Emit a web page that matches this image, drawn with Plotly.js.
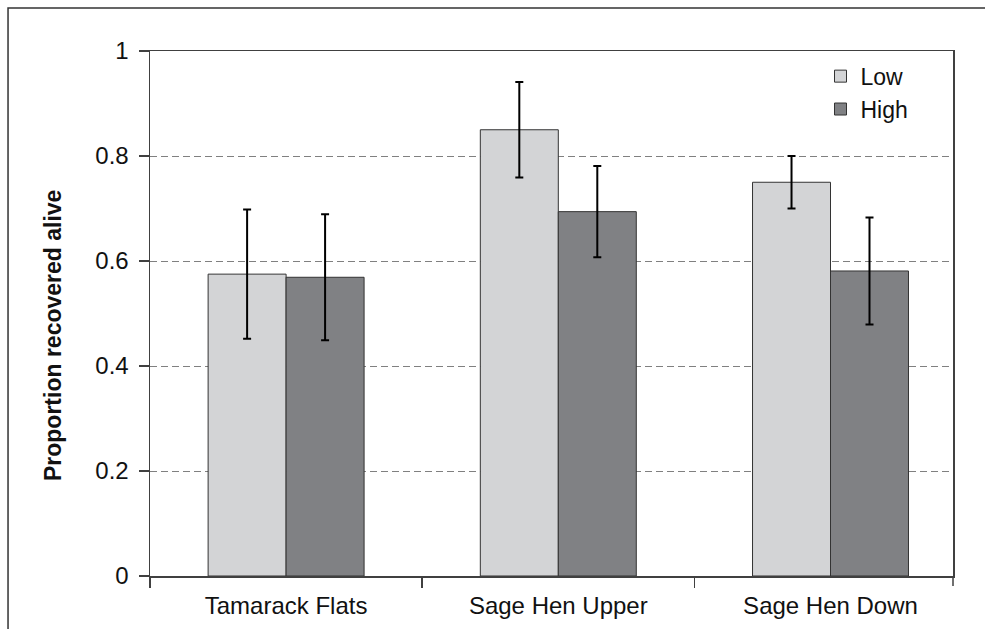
<!DOCTYPE html>
<html>
<head>
<meta charset="utf-8">
<script src="https://cdn.plot.ly/plotly-3.0.1.min.js"></script>
<style>
  html, body { margin: 0; padding: 0; background: #ffffff; }
  #chart { width: 985px; height: 629px; }
</style>
</head>
<body>
<div id="chart"></div>
<script>
// ---- data ----
const categories = ["Tamarack Flats", "Sage Hen Upper", "Sage Hen Down"];
const lowValues  = [0.575, 0.850, 0.750];
const lowErrors  = [0.123, 0.091, 0.050];
const highValues = [0.569, 0.694, 0.581];
const highErrors = [0.120, 0.087, 0.102];
const seriesNames = ["Low", "High"];
const yTickVals = [0, 0.2, 0.4, 0.6, 0.8, 1];
const yTickText = ["0", "0.2", "0.4", "0.6", "0.8", "1"];
const yTitle = "Proportion recovered alive";

const FONT = "Arial, 'Liberation Sans', Helvetica, sans-serif";
const TEXT = "#111111";

const traces = [
  {
    type: "bar", name: seriesNames[0], x: categories, y: lowValues,
    marker: { color: "#d3d4d6", line: { color: "#333333", width: 1 } },
    error_y: { type: "data", array: lowErrors, visible: true, color: "#000000", thickness: 2, width: 4 }
  },
  {
    type: "bar", name: seriesNames[1], x: categories, y: highValues,
    marker: { color: "#808184", line: { color: "#333333", width: 1 } },
    error_y: { type: "data", array: highErrors, visible: true, color: "#000000", thickness: 2, width: 4 }
  }
];

const layout = {
  width: 985, height: 629,
  margin: { l: 150, r: 32, t: 51, b: 53 },
  paper_bgcolor: "#ffffff", plot_bgcolor: "#ffffff",
  font: { family: FONT, size: 24, color: TEXT },
  barmode: "group", bargap: 0.427, bargroupgap: 0,
  showlegend: true,
  legend: {
    x: 0.835, y: 0.993, xanchor: "left", yanchor: "top",
    bgcolor: "rgba(0,0,0,0)", borderwidth: 0,
    font: { family: FONT, size: 23, color: TEXT },
    itemwidth: 30, tracegroupgap: 0
  },
  xaxis: {
    type: "category", range: [-0.5, 2.45],
    showline: true, linecolor: "#404040", linewidth: 1.5, mirror: true,
    ticks: "outside", ticklen: 10, tickwidth: 1.5, tickcolor: "#404040",
    tickson: "boundaries", showgrid: false, zeroline: false,
    ticklabelstandoff: 8,
    tickfont: { family: FONT, size: 24, color: TEXT }
  },
  yaxis: {
    range: [0, 1], tickvals: yTickVals, ticktext: yTickText,
    showline: true, linecolor: "#404040", linewidth: 1.5, mirror: true,
    ticks: "outside", ticklen: 10, tickwidth: 1.5, tickcolor: "#404040",
    showgrid: true, gridcolor: "#808080", gridwidth: 1, griddash: "7px,4px",
    zeroline: false, ticklabelstandoff: 5,
    tickfont: { family: FONT, size: 24, color: TEXT }
  },
  annotations: [
    {
      text: "<b>" + yTitle + "</b>", xref: "paper", yref: "paper",
      x: -0.1208, y: 0.459, xanchor: "center", yanchor: "middle",
      textangle: -90, showarrow: false,
      font: { family: FONT, size: 23, color: TEXT }
    }
  ],
  shapes: [
    // outer frame of the figure (right/bottom edges fall outside the picture)
    { type: "rect", xref: "paper", yref: "paper",
      x0: -0.1768, x1: 1.2, y0: -0.3, y1: 1.0819,
      line: { color: "#333333", width: 1.5 }, fillcolor: "rgba(0,0,0,0)", layer: "above" },
    // end tick at right end of the category axis
    { type: "line", xref: "paper", yref: "paper",
      x0: 1, x1: 1, y0: 0, y1: -0.019,
      line: { color: "#404040", width: 1.5 } }
  ]
};

Plotly.newPlot("chart", traces, layout, { displayModeBar: false, staticPlot: true });
</script>
</body>
</html>
